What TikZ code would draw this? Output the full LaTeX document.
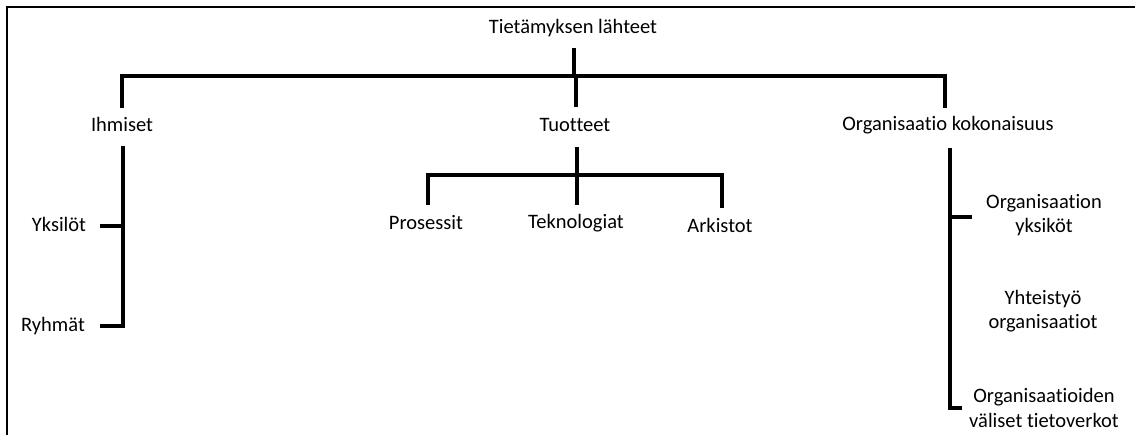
\documentclass[tikz,border=0pt]{standalone}
\usepackage{fontspec}
\setmainfont{Carlito}[Ligatures={NoCommon}]
\begin{document}
\begin{tikzpicture}[x=1pt,y=-1pt,
  lbl/.style={font=\fontsize{20.5}{24.5}\selectfont, inner sep=0pt, align=center,
    text height=14pt, text depth=5pt},
  lbl2/.style={font=\fontsize{20.5}{24.5}\selectfont, inner sep=0pt, align=center},
  link/.style={line width=3.2pt},
  frame/.style={line width=2pt}]
\useasboundingbox (0,0) rectangle (1135,434);
% outer frame (top and left edges)
\draw[frame] (7,440) -- (7,7) -- (1140,7);

% labels
\node[lbl] (root) at (573,29) {Tietämyksen lähteet};
\node[lbl] (ihm) at (122,127) {Ihmiset};
\node[lbl] (tuo) at (575,127) {Tuotteet};
\node[lbl] (org) at (948,126) {Organisaatio kokonaisuus};
\node[lbl] (yks) at (59,227) {Yksilöt};
\node[lbl] (ryh) at (53,327) {Ryhmät};
\node[lbl] (pro) at (426,225) {Prosessit};
\node[lbl] (tek) at (576,224) {Teknologiat};
\node[lbl] (ark) at (720,228) {Arkistot};
\node[lbl2] (oyk) at (1044,215) {Organisaation\\yksiköt};
\node[lbl2] (yht) at (1043,311) {Yhteistyö\\organisaatiot};
\node[lbl2] (ovt) at (1044,408) {Organisaatioiden\\väliset tietoverkot};

% junction points
\coordinate (jTop) at (574,76);
\coordinate (jL) at (122,76);
\coordinate (jR) at (945,76);
\coordinate (jM) at (576,76);
\coordinate (dL) at (122,108);
\coordinate (dR) at (945,108);
\coordinate (dM) at (576,107);
% Ihmiset branch
\coordinate (iTop) at (123,146);
\coordinate (iYks) at (123,226);
\coordinate (iBot) at (123,326);
\coordinate (yksE) at (100,226);
\coordinate (ryhE) at (100,326);
% Tuotteet branch
\coordinate (tTop) at (577,147);
\coordinate (tBar) at (577,175);
\coordinate (tBot) at (577,205);
\coordinate (pBar) at (428,175);
\coordinate (pEnd) at (428,205);
\coordinate (aBar) at (722,175);
\coordinate (aEnd) at (722,208);
% Organisaatio branch
\coordinate (oTop) at (950,148);
\coordinate (oYks) at (950,217);
\coordinate (oBot) at (950,408);
\coordinate (oYksE) at (972,217);
\coordinate (oBotE) at (962,408);

% top level
\draw[link] ([yshift=-9pt]root.south -| jTop) -- (jTop);
\draw[link] (dL) -- (jL) -- (jR) -- (dR);
\draw[link] (jM) -- (dM);

% Ihmiset
\draw[link] (iTop) -- (iBot) -- (ryhE);
\draw[link] (yksE) -- (iYks);

% Tuotteet
\draw[link] (tTop) -- (tBot);
\draw[link] (pEnd) -- (pBar) -- (aBar) -- (aEnd);

% Organisaatio kokonaisuus
\draw[link] (oTop) -- (oBot) -- (oBotE);
\draw[link] (oYks) -- (oYksE);
\end{tikzpicture}
\end{document}
